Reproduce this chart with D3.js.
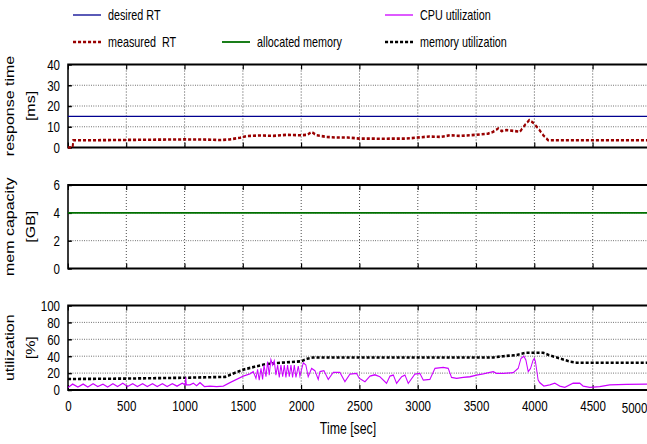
<!doctype html>
<html lang='en'>
  <head>
    <meta charset="utf-8">
    <script src="https://d3js.org/d3.v7.min.js"></script>
    <title>RT / memory / utilization</title>
  <style>
  body { margin: 0; background: white; }
  svg { display: block; overflow: hidden; }
  text { font-family: "Liberation Sans", Arial, sans-serif; fill: #000; }
  .grid line { stroke: #333; stroke-width: 1; stroke-dasharray: 1,2; }
  .axis path { display: none; }
  .axis line { stroke: #000; stroke-width: 1.5; }
  </style>
  </head>
  <body>
    <div id='chart'></div>
    <script>
    // data: [time sec, value]
    const desiredRT = [[0, 15], [5000, 15]];
    const measuredRT = [[0,0],[40,0],[45,3.5],[200,3.5],[400,3.6],[600,3.7],[800,3.8],[1000,3.9],[1200,3.8],[1303,3.6],
      [1389,3.9],[1475,4.7],[1532,5.5],[1646,5.8],[1761,5.6],[1875,6.1],[1989,5.9],[2052,6.1],[2089,7.5],[2132,5.9],
      [2218,5.1],[2304,4.8],[2400,4.8],[2500,4.3],[2600,4.3],[2700,4.2],[2800,4.3],[2900,4.3],[3000,4.8],[3100,5.3],
      [3200,5.1],[3275,5.9],[3361,5.6],[3447,5.9],[3533,6.3],[3604,6.7],[3647,7.6],[3690,9.2],[3718,7.9],[3761,8.4],
      [3818,8],[3876,7.6],[3918,10.8],[3956,13.2],[3990,11.9],[4033,9.2],[4076,5.9],[4118,3.5],[5000,3.5]];
    const allocatedMem = [[0, 4], [5000, 4]];
    const cpuUtil = [[0,3],[40,7],[85,3.5],[130,7],[170,3.5],[215,7.5],[255,4],[300,7],[340,3.5],[385,7.5],[425,4],
      [470,8],[510,4],[555,7.5],[595,4],[640,7.5],[680,4],[725,7.5],[765,4],[810,7.5],[850,4],[895,7.5],[935,4.5],
      [980,8],[1005,6],[1010,15],[1015,6],[1046,6],[1075,8],[1103,5],[1132,8.7],[1170,4],[1217,4.7],[1275,4],[1332,4.7],
      [1389,8.7],[1446,12.6],[1503,16.5],[1560,19],[1589,21.7],[1612,13.8],[1626,24.4],[1640,11.8],[1655,25.6],
      [1669,12.6],[1681,29.5],[1698,15.7],[1712,33.5],[1726,17.7],[1740,36.2],[1755,29.5],[1769,34.6],[1783,17.7],
      [1798,29.5],[1812,15],[1826,29.5],[1841,15.7],[1855,29.5],[1869,15],[1883,29.5],[1898,15.7],[1912,29.5],
      [1926,15],[1941,29.5],[1955,15],[1975,28.3],[1989,16.5],[2018,32.3],[2040,29.5],[2060,15.7],[2089,25.6],
      [2118,22.8],[2146,12.6],[2161,21.7],[2195,22.8],[2232,12.6],[2275,20.9],[2332,20.9],[2375,9.8],[2418,18.9],
      [2475,19.7],[2498,13.8],[2547,9.8],[2590,16.5],[2632,18],[2675,15.7],[2732,7.9],[2761,16.5],[2790,17.7],
      [2818,7.9],[2861,15.7],[2890,17.7],[2918,7.9],[2975,18.9],[3018,19.7],[3047,11.8],[3104,12.6],[3147,25.6],
      [3218,26.8],[3261,25.6],[3289,15],[3333,13.8],[3390,15],[3447,15.7],[3504,17.7],[3561,19],[3647,21.7],
      [3675,19.7],[3733,19.7],[3818,20.5],[3861,25.6],[3885,37.4],[3910,40],[3927,35.4],[3947,21.7],[3967,25.6],
      [3989,35.4],[4000,37.4],[4009,33.5],[4032,11.8],[4046,8.7],[4081,4.7],[4132,6],[4175,8],[4218,4.7],[4261,3.1],
      [4332,8],[4389,8],[4418,4.7],[4475,3],[4560,4],[4646,6],[4789,6.7],[5000,7]];
    const memUtil = [[0,13],[500,13.5],[1000,14.5],[1350,15.5],[1400,18.5],[1500,24],[1600,27.5],[1700,30.7],
      [1800,32],[1900,33],[2000,34],[2050,37],[2100,38.5],[3650,38.5],[3733,40],[3847,41.3],[3918,44],[4075,44],
      [4132,41],[4218,37.4],[4304,33.5],[4361,32.3],[5000,32.3]];

    const xTicks = [0, 500, 1000, 1500, 2000, 2500, 3000, 3500, 4000, 4500, 5000];
    const rtTicks = [0, 10, 20, 30, 40];
    const memTicks = [0, 2, 4, 6];
    const utilTicks = [0, 20, 40, 60, 80, 100];

    // whole figure is horizontally squeezed, like the source
    const SX = 0.77;
    const width = 647, height = 444;

    const svg = d3.select('#chart').append('svg')
      .attr('width', width).attr('height', height);
    const root = svg.append('g').attr('transform', 'scale(' + SX + ',1)');
    const px = v => v / SX;

    const x = d3.scaleLinear().domain([0, 5000]).range([px(68), px(651)]);

    const panels = [
      {top: 64.5, bottom: 147.5, domain: [0, 40], ticks: rtTicks, label: ['response time', '[ms]'],
        series: [{data: desiredRT, color: '#000090', w: 1.3, dash: null},
                 {data: measuredRT, color: '#990000', w: 2.6, dash: '4,2.5'}]},
      {top: 185, bottom: 268.5, domain: [0, 6], ticks: memTicks, label: ['mem capacity', '[GB]'],
        series: [{data: allocatedMem, color: '#007000', w: 1.8, dash: null}]},
      {top: 305.5, bottom: 390, domain: [0, 100], ticks: utilTicks, label: ['utilization', '[%]'],
        series: [{data: memUtil, color: '#000', w: 2.6, dash: '4,2.5'},
                 {data: cpuUtil, color: '#cc00ff', w: 1.3, dash: null}]}
    ];

    panels.forEach((p, pi) => {
      const y = d3.scaleLinear().domain(p.domain).range([p.bottom, p.top]);
      const g = root.append('g');

      // dotted grid
      const grid = g.append('g').attr('class', 'grid');
      grid.selectAll('.gx').data(xTicks.slice(1, -1)).enter().append('line')
        .attr('x1', d => x(d)).attr('x2', d => x(d))
        .attr('y1', p.top).attr('y2', p.bottom);
      grid.selectAll('.gy').data(p.ticks.slice(1, -1)).enter().append('line')
        .attr('x1', x(0)).attr('x2', x(5000))
        .attr('y1', d => y(d)).attr('y2', d => y(d));

      // inward ticks, top and bottom
      g.append('g').attr('class', 'axis')
        .attr('transform', 'translate(0,' + p.top + ')')
        .call(d3.axisTop(x).tickValues(xTicks).tickSizeInner(-5).tickSizeOuter(0).tickFormat(''));
      const xa = g.append('g').attr('class', 'axis')
        .attr('transform', 'translate(0,' + p.bottom + ')')
        .call(d3.axisBottom(x).tickValues(xTicks).tickSizeInner(-5).tickSizeOuter(0).tickPadding(10)
          .tickFormat(pi === 2 ? d3.format('d') : ''));
      xa.selectAll('text').style('font-size', '15px');
      if (pi === 2) {
        xa.selectAll('.tick').filter(d => d === 5000).select('text')
          .attr('x', px(647) - x(5000)).attr('text-anchor', 'end').attr('dy', '0.85em');
      }

      const ya = g.append('g').attr('class', 'axis')
        .attr('transform', 'translate(' + x(0) + ',0)')
        .call(d3.axisLeft(y).tickValues(p.ticks).tickFormat(d3.format('d'))
          .tickSizeInner(-5).tickSizeOuter(0).tickPadding(px(8)));
      ya.selectAll('text').style('font-size', '15px');

      // frame
      g.append('rect')
        .attr('x', x(0)).attr('y', p.top)
        .attr('width', x(5000) - x(0)).attr('height', p.bottom - p.top)
        .attr('fill', 'none').attr('stroke', '#000').attr('stroke-width', 2);

      // series
      const line = d3.line().x(d => x(d[0])).y(d => y(d[1]));
      p.series.forEach(s => {
        g.append('path').datum(s.data)
          .attr('d', line)
          .attr('fill', 'none')
          .attr('stroke', s.color)
          .attr('stroke-width', s.w)
          .attr('stroke-dasharray', s.dash);
      });

      // rotated y label, two lines
      const cy = (p.top + p.bottom) / 2;
      g.append('text')
        .attr('transform', 'translate(' + px(14) + ',' + cy + ') rotate(-90)')
        .attr('text-anchor', 'middle').style('font-size', '16px')
        .text(p.label[0]);
      g.append('text')
        .attr('transform', 'translate(' + px(35) + ',' + cy + ') rotate(-90)')
        .attr('text-anchor', 'middle').style('font-size', '16px')
        .text(p.label[1]);
    });

    root.append('text')
      .attr('x', px(348)).attr('y', 434)
      .attr('text-anchor', 'middle').style('font-size', '16px')
      .text('Time [sec]');

    // legend
    const legend = [
      {label: 'desired RT', color: '#000090', w: 1.3, dash: null, x: 73, y: 15},
      {label: 'CPU utilization', color: '#cc00ff', w: 1.3, dash: null, x: 385, y: 15},
      {label: 'measured  RT', color: '#990000', w: 2.6, dash: '4,2.5', x: 73, y: 42},
      {label: 'allocated memory', color: '#007000', w: 1.8, dash: null, x: 222, y: 42},
      {label: 'memory utilization', color: '#000', w: 2.6, dash: '4,2.5', x: 385, y: 42}
    ];
    const lg = root.selectAll('.leg').data(legend).enter().append('g');
    lg.append('line')
      .attr('x1', d => px(d.x)).attr('x2', d => px(d.x + 28))
      .attr('y1', d => d.y).attr('y2', d => d.y)
      .attr('stroke', d => d.color).attr('stroke-width', d => d.w)
      .attr('stroke-dasharray', d => d.dash);
    lg.append('text')
      .attr('x', d => px(d.x + 35)).attr('y', d => d.y + 5)
      .style('font-size', '14px').style('white-space', 'pre')
      .text(d => d.label);
    </script>
  </body>
</html>
